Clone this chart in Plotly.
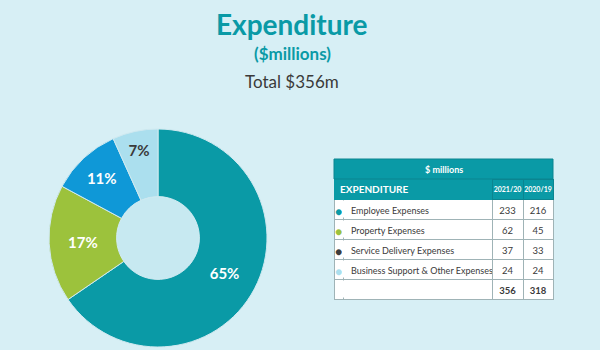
import plotly.graph_objects as go

# ---- data ----
categories = ["Employee Expenses", "Property Expenses",
              "Service Delivery Expenses", "Business Support & Other Expenses"]
fy2021 = [233, 62, 37, 24]
fy2020 = [216, 45, 33, 24]
pct_labels = ["65%", "17%", "11%", "7%"]
year_labels = ["2021/20", "2020/19"]
pie_colors = ["#0a9aa6", "#9cc23c", "#0f98d7", "#abdfee"]
dot_colors = ["#0a9aa6", "#9cc23c", "#3d3d3d", "#abdfee"]
label_colors = ["white", "white", "white", "#3a3a3a"]

BG = "#d7eff5"
TEAL = "#0a9aa6"
DARKTEAL = "#0b8590"
GRID = "#9fb3b6"
TXT = "#3a3a3a"
FONT = "Lato"

W, H = 600, 350

fig = go.Figure()

# donut
cx, cy, r = 158, 238, 109
fig.add_trace(go.Pie(
    values=fy2021, labels=categories, text=pct_labels,
    textinfo="text", sort=False, direction="clockwise", rotation=0,
    hole=0.38, showlegend=False, hoverinfo="label+value",
    marker=dict(colors=pie_colors, line=dict(color="#cfe9f0", width=1)),
    textfont=dict(family=FONT, size=15, color=label_colors, weight="bold"),
    insidetextorientation="horizontal", textposition="inside",
    domain=dict(x=[(cx - r) / W, (cx + r) / W],
                y=[1 - (cy + r) / H, 1 - (cy - r) / H]),
))

# hole fill
hr = 41
fig.add_shape(type="circle", xref="paper", yref="paper",
              x0=(cx - hr) / W, x1=(cx + hr) / W,
              y0=1 - (cy + hr) / H, y1=1 - (cy - hr) / H,
              fillcolor="#c7e9f1", line=dict(width=0), layer="above")

# ---- table ----
tx0, tx1 = 334, 553
top1, top2, bot = 159, 179, 299
rowh = 20
colw = [9, 149, 31, 30]
nrows = len(categories) + 1

# spanning top header row "$ millions"
fig.add_shape(type="rect", xref="paper", yref="paper",
              x0=tx0 / W, x1=tx1 / W, y0=1 - top2 / H, y1=1 - top1 / H,
              fillcolor=TEAL, line=dict(color=DARKTEAL, width=1))
fig.add_annotation(text="<b>$ millions</b>", x=(tx0 + tx1) / 2 / W, y=1 - (top1 + top2) / 2 / H,
                   xref="paper", yref="paper", showarrow=False,
                   xanchor="center", yanchor="middle",
                   font=dict(family=FONT, size=9, color="white"))

NB = "\u00a0"  # non-breaking spaces keep plotly from word-wrapping (and growing) the rows
dots = ["●"] * len(categories) + [""]
names = [""] * nrows  # names go in as prefixes so '&' is not parsed as markup
name_prefix = [n.replace(" ", NB) for n in categories] + [""]
col_y1 = [str(v) for v in fy2021] + [str(sum(fy2021))]
col_y2 = [str(v) for v in fy2020] + [str(sum(fy2020))]
weights = ["normal"] * len(categories) + ["bold"]

fig.add_trace(go.Table(
    domain=dict(x=[tx0 / W, tx1 / W], y=[1 - (bot + 4) / H, 1 - top2 / H]),
    columnwidth=colw,
    header=dict(values=["", ""] + year_labels,
                fill_color=TEAL, height=rowh,
                line=dict(color=[TEAL, TEAL, DARKTEAL, DARKTEAL], width=1),
                align=["left", "left", "center", "center"],
                font=dict(family=FONT, size=7, color="white", weight="bold")),
    cells=dict(values=[dots, names, col_y1, col_y2],
               fill_color="white", height=rowh,
               line=dict(color=GRID, width=1),
               align=["center", "left", "center", "center"],
               font=dict(family=FONT, size=[12, 9, 9.5, 9.5],
                         color=[dot_colors + ["white"], [TXT], [TXT], [TXT]])),
))
# per-cell grids that plotly.js accepts but the python validator flattens
fig._data[-1]["cells"]["prefix"] = [[""], name_prefix, [""], [""]]
fig._data[-1]["cells"]["font"]["weight"] = [["normal"], ["normal"], weights, weights]

# header label spanning the dot + name columns
fig.add_annotation(text="<b>EXPENDITURE</b>", x=(tx0 + 4) / W, y=1 - (top2 + rowh / 2) / H,
                   xref="paper", yref="paper", showarrow=False,
                   xanchor="left", yanchor="middle",
                   font=dict(family=FONT, size=10, color="white"))

# hide the divider between the dot column and the name column
xdiv = tx0 + (tx1 - tx0) * colw[0] / sum(colw)
for i in range(nrows):
    y_a = top2 + rowh * (i + 1) + 1.5
    y_b = top2 + rowh * (i + 2) - 1.5
    fig.add_shape(type="line", xref="paper", yref="paper",
                  x0=xdiv / W, x1=xdiv / W, y0=1 - y_a / H, y1=1 - y_b / H,
                  line=dict(color="white", width=2))

# titles
cxt = 0.487
fig.add_annotation(text="<b>Expenditure</b>", x=cxt, y=1 - 24 / H, xref="paper", yref="paper",
                   xanchor="center", yanchor="middle",
                   showarrow=False, font=dict(family=FONT, size=28, color=TEAL))
fig.add_annotation(text="<b>($millions)</b>", x=cxt, y=1 - 53 / H, xref="paper", yref="paper",
                   xanchor="center", yanchor="middle",
                   showarrow=False, font=dict(family=FONT, size=17, color=TEAL))
fig.add_annotation(text="Total $356m", x=cxt, y=1 - 81 / H, xref="paper", yref="paper",
                   xanchor="center", yanchor="middle",
                   showarrow=False, font=dict(family=FONT, size=17, color=TXT))

fig.update_layout(width=W, height=H, margin=dict(l=0, r=0, t=0, b=0),
                  paper_bgcolor=BG, plot_bgcolor=BG)

fig.write_html("out.html")
